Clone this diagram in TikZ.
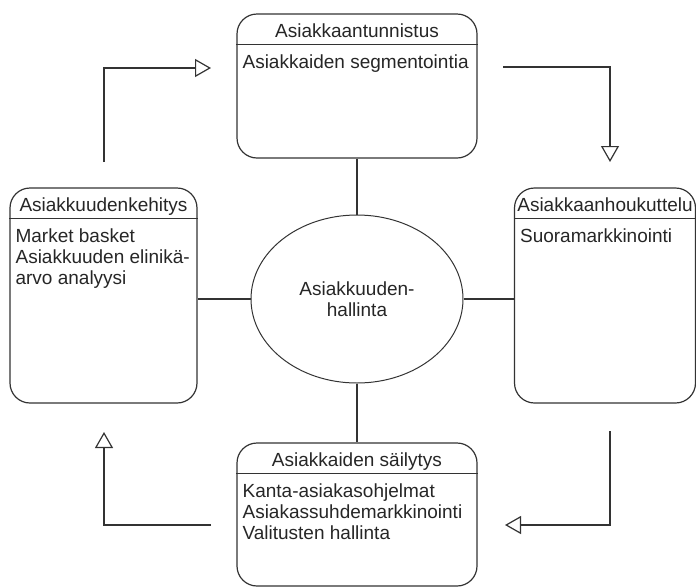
\documentclass[tikz,border=0pt]{standalone}
\usepackage{fontspec}
\setmainfont{Liberation Sans}
\usetikzlibrary{arrows.meta,shapes.geometric}
\begin{document}
\begin{tikzpicture}[x=1pt,y=-1pt,
    every node/.style={font=\fontsize{19}{21}\selectfont,text=black!85},
    card/.style={draw=black!80,line width=1.2pt,rounded corners=20pt,inner sep=0pt},
    hub/.style={draw=black!80,line width=1pt,ellipse,inner sep=0pt,align=center},
    head/.style={anchor=base,inner sep=0pt},
    body/.style={anchor=north west,align=left,inner sep=0pt},
    link/.style={draw=black!80,line width=1.2pt},
    flow/.style={draw=black!80,line width=1.2pt,-{Triangle[open,length=16pt,width=18pt]}}]
  \useasboundingbox (0,0) rectangle (696,587);
  % boxes
  \node[card,minimum width=240pt,minimum height=144pt] (tunnistus) at (357,86) {};
  \node[card,minimum width=187pt,minimum height=215pt] (kehitys) at (103.5,295.5) {};
  \node[card,minimum width=181pt,minimum height=215pt] (houkuttelu) at (605,295.5) {};
  \node[card,minimum width=240pt,minimum height=143pt] (sailytys) at (357,514.5) {};
  \node[hub,minimum width=212pt,minimum height=168pt] (hallinta) at (357,299) {Asiakkuuden-\\hallinta};
  % headers
  \foreach \b/\t in {tunnistus/Asiakkaantunnistus,kehitys/Asiakkuudenkehitys,
      houkuttelu/Asiakkaanhoukuttelu,sailytys/Asiakkaiden säilytys}{
    \node[head] (\b H) at ([yshift=-24.5pt]\b.north) {\t};
    \draw[link] ([yshift=-31pt]\b.north west) -- ([yshift=-31pt]\b.north east);
  }
  \node[body] (tunnistusB) at ([xshift=6pt,yshift=-41pt]tunnistus.north west) {Asiakkaiden segmentointia};
  \node[body] (kehitysB) at ([xshift=6pt,yshift=-41pt]kehitys.north west) {Market basket\\Asiakkuuden elinikä-\\arvo analyysi};
  \node[body] (houkutteluB) at ([xshift=6pt,yshift=-41pt]houkuttelu.north west) {Suoramarkkinointi};
  \node[body] (sailytysB) at ([xshift=6pt,yshift=-41pt]sailytys.north west) {Kanta-asiakasohjelmat\\Asiakassuhdemarkkinointi\\Valitusten hallinta};
  % spokes
  \draw[link] (tunnistus.south) -- (hallinta.north);
  \draw[link] (hallinta.west) -- (hallinta.west -| kehitys.east);
  \draw[link] (hallinta.east) -- (hallinta.east -| houkuttelu.west);
  \draw[link] (hallinta.south) -- (sailytys.north);
  % cycle arrows
  \coordinate (a1) at (104,162);
  \coordinate (a2) at (211,68);
  \coordinate (a3) at (503,67);
  \coordinate (a4) at (610,162);
  \coordinate (a5) at (610,431);
  \coordinate (a6) at (505,525);
  \coordinate (a7) at (211,525);
  \coordinate (a8) at (104,432);
  \draw[flow] (a1) |- (a2);
  \draw[flow] (a3) -| (a4);
  \draw[flow] (a5) |- (a6);
  \draw[flow] (a7) -| (a8);
\end{tikzpicture}
\end{document}
